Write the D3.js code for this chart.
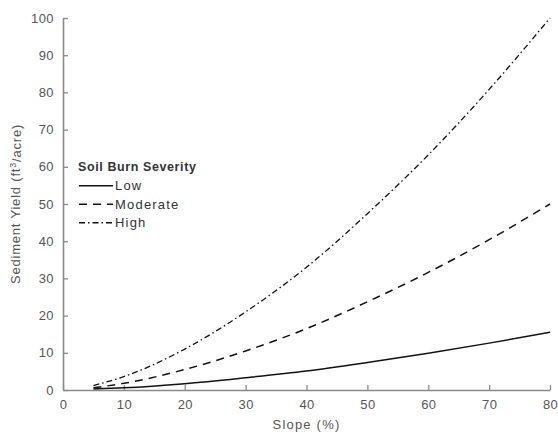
<!DOCTYPE html>
<html>
<head>
<meta charset="utf-8">
<script src="https://cdn.jsdelivr.net/npm/d3@7"></script>
<style>
  body { margin: 0; background: #fff; }
  svg text { font-family: "Liberation Sans", Arial, sans-serif; }
</style>
</head>
<body>
<div id="chart"></div>
<script>
// valeurs
const slope = [5, 10, 20, 30, 40, 50, 60, 70, 80];
const low = [0.3, 0.6, 1.7, 3.3, 5.1, 7.4, 9.9, 12.6, 15.5];
const moderate = [0.6, 1.8, 5.5, 10.5, 16.5, 23.7, 31.6, 40.4, 50];
const high = [1.2, 3.6, 11, 21, 33, 47.4, 63.2, 80.8, 100];
const xTicks = [0, 10, 20, 30, 40, 50, 60, 70, 80];
const yTicks = [0, 10, 20, 30, 40, 50, 60, 70, 80, 90, 100];

const series = [
    { name: "Low", values: low, dash: null },
    { name: "Moderate", values: moderate, dash: "8,6" },
    { name: "High", values: high, dash: "6,3,1.5,3" }
];

const W = 558, H = 432;
const margin = { top: 18, right: 8, bottom: 42, left: 63 };

const svg = d3.select("#chart").append("svg")
    .attr("width", W)
    .attr("height", H);

const g = svg.append("g")
    .attr("transform", `translate(${margin.left},${margin.top})`);

const x = d3.scaleLinear().domain([0, 80]).range([0, 487]);
const y = d3.scaleLinear().domain([0, 100]).range([372, 0]);

const axisColor = "#8a8a8a";
const textColor = "#555";

// Axes (ticks vers l'intérieur)
const xAxis = g.append("g")
    .attr("transform", `translate(0,${y(0)})`)
    .call(d3.axisBottom(x).tickValues(xTicks).tickSizeInner(-5).tickSizeOuter(0).tickPadding(10));

const yAxis = g.append("g")
    .call(d3.axisLeft(y).tickValues(yTicks).tickSizeInner(-5).tickSizeOuter(0).tickPadding(9));

[xAxis, yAxis].forEach(a => {
    a.select(".domain").attr("stroke", axisColor).attr("stroke-width", 1.6);
    a.selectAll(".tick line").attr("stroke", axisColor).attr("stroke-width", 1.3);
    a.selectAll(".tick text")
        .attr("fill", textColor)
        .attr("font-size", "13px")
        .attr("letter-spacing", "0.4px");
});

// Titres des axes
g.append("text")
    .attr("x", (x(0) + x(80)) / 2)
    .attr("y", y(0) + 39)
    .attr("text-anchor", "middle")
    .attr("font-size", "13px")
    .attr("letter-spacing", "1.2px")
    .attr("fill", textColor)
    .text("Slope (%)");

const yLab = g.append("text")
    .attr("transform", `translate(${-43},${y(50)}) rotate(-90)`)
    .attr("text-anchor", "middle")
    .attr("font-size", "13px")
    .attr("letter-spacing", "0.8px")
    .attr("fill", textColor);
yLab.append("tspan").text("Sediment Yield (ft");
yLab.append("tspan").attr("font-size", "9px").attr("dy", "-0.5em").text("3");
yLab.append("tspan").attr("dy", "0.45em").text("/acre)");

// Courbes
const line = d3.line()
    .x((d, i) => x(slope[i]))
    .y(d => y(d))
    .curve(d3.curveMonotoneX);

series.forEach(s => {
    g.append("path")
        .datum(s.values)
        .attr("fill", "none")
        .attr("stroke", "#111")
        .attr("stroke-width", s.name === "High" ? 1.3 : 1.5)
        .attr("stroke-dasharray", s.dash)
        .attr("d", line);
});

// Légende
const leg = g.append("g").attr("transform", `translate(15, ${y(60)})`);
leg.append("text")
    .attr("x", 0).attr("y", 0)
    .attr("dy", "0.35em")
    .attr("font-size", "12.5px")
    .attr("font-weight", "bold")
    .attr("letter-spacing", "0.6px")
    .attr("fill", "#333")
    .text("Soil Burn Severity");

series.forEach((s, i) => {
    const row = leg.append("g").attr("transform", `translate(0, ${19 + i * 18.5})`);
    row.append("line")
        .attr("x1", 1).attr("x2", 35)
        .attr("y1", 0).attr("y2", 0)
        .attr("stroke", "#111")
        .attr("stroke-width", 1.5)
        .attr("stroke-dasharray", s.dash);
    row.append("text")
        .attr("x", 37).attr("y", 0)
        .attr("dy", "0.35em")
        .attr("font-size", "13px")
        .attr("letter-spacing", "1.2px")
        .attr("fill", "#333")
        .text(s.name);
});
</script>
</body>
</html>
